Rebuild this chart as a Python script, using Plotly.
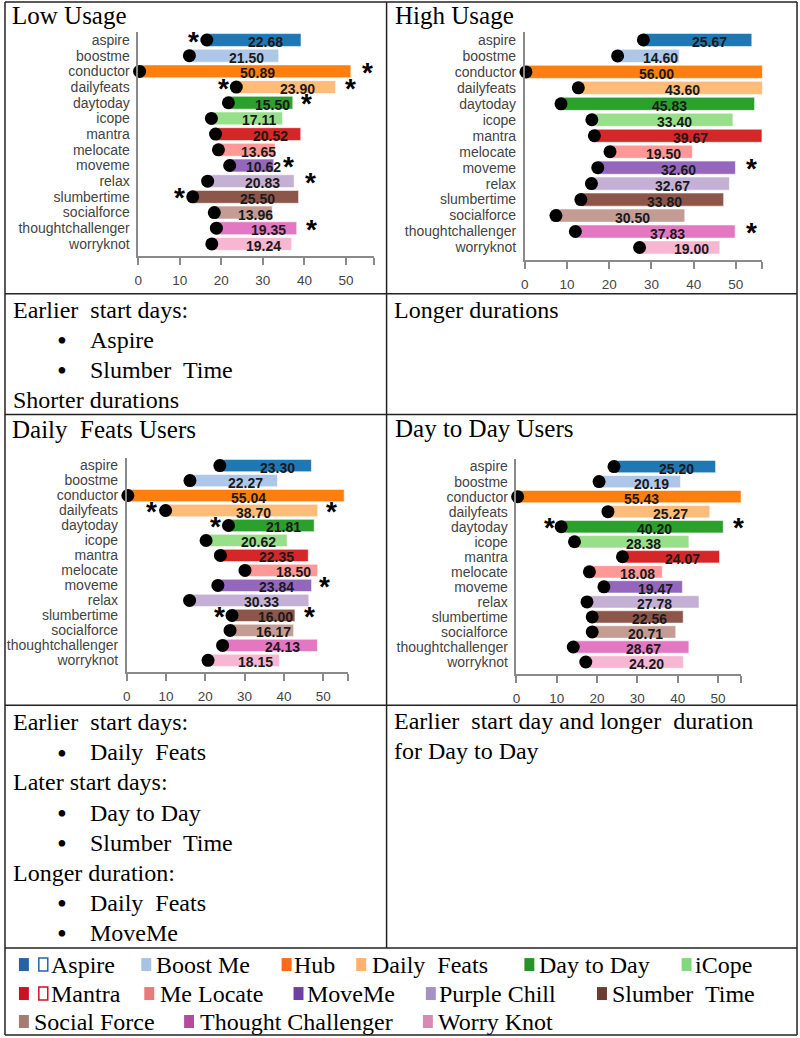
import plotly.graph_objects as go

# ---------------- data ----------------
categories = ["aspire", "boostme", "conductor", "dailyfeats", "daytoday", "icope", "mantra",
              "melocate", "moveme", "relax", "slumbertime", "socialforce",
              "thoughtchallenger", "worryknot"]

low_start = [16.5, 12.3, 0.3, 23.6, 21.7, 17.6, 18.6, 19.3, 22.0, 16.7, 13.1, 18.3, 18.8, 17.7]
low_dur = [22.68, 21.50, 50.89, 23.90, 15.50, 17.11, 20.52, 13.65, 10.62, 20.83, 25.50, 13.96, 19.35, 19.24]
low_star_left = {"aspire": 13.4, "dailyfeats": 20.4, "slumbertime": 10.0}
low_star_right = {"conductor": 55.2, "dailyfeats": 51.2, "daytoday": 40.6, "moveme": 36.2,
                  "relax": 41.4, "thoughtchallenger": 41.8}

high_start = [28.1, 22.0, 0.3, 12.7, 8.6, 15.9, 16.5, 20.2, 17.3, 15.8, 13.3, 7.4, 12.0, 27.2]
high_dur = [25.67, 14.60, 56.00, 43.60, 45.83, 33.40, 39.67, 19.50, 32.60, 32.67, 33.80, 30.50, 37.83, 19.00]
high_star_left = {}
high_star_right = {"daytoday": 58.1, "mantra": 59.9, "moveme": 53.6, "thoughtchallenger": 53.6}

df_start = [23.7, 16.1, 0.3, 9.9, 25.9, 20.2, 23.85, 30.1, 23.2, 16.0, 26.8, 26.3, 24.4, 20.7]
df_dur = [23.30, 22.27, 55.04, 38.70, 21.81, 20.62, 22.35, 18.50, 23.84, 30.33, 16.00, 16.17, 24.13, 18.15]
df_star_left = {"dailyfeats": 6.3, "daytoday": 22.5, "slumbertime": 23.5}
df_star_right = {"dailyfeats": 52.2, "moveme": 50.4, "slumbertime": 46.6}

dd_start = [24.2, 20.5, 0.3, 22.7, 11.1, 14.4, 26.3, 18.1, 21.7, 17.5, 18.8, 18.8, 14.1, 17.2]
dd_dur = [25.20, 20.19, 55.43, 25.27, 40.20, 28.38, 24.07, 18.08, 19.47, 27.78, 22.56, 20.71, 28.67, 24.20]
dd_star_left = {"daytoday": 8.1}
dd_star_right = {"daytoday": 55.0}

tick_values = [0, 10, 20, 30, 40, 50]

panel_titles = ["Low Usage", "High Usage", "Daily\u00a0 Feats Users", "Day to Day Users"]

legend_labels = ["Aspire", "Boost Me", "Hub", "Daily\u00a0 Feats", "Day to Day", "iCope",
                 "Mantra", "Me Locate", "MoveMe", "Purple Chill", "Slumber\u00a0 Time",
                 "Social Force", "Thought Challenger", "Worry Knot"]

note_upper_left = [("Earlier\u00a0 start days:", False), ("Aspire", True),
                   ("Slumber\u00a0 Time", True), ("Shorter durations", False)]
note_upper_right = ["Longer durations"]
note_lower_left = [("Earlier\u00a0 start days:", False), ("Daily\u00a0 Feats", True),
                   ("Later start days:", False), ("Day to Day", True), ("Slumber\u00a0 Time", True),
                   ("Longer duration:", False), ("Daily\u00a0 Feats", True), ("MoveMe", True)]
note_lower_right = ["Earlier\u00a0 start day and longer\u00a0 duration", "for Day to Day"]

# ---------------- style ----------------
W, H = 800, 1038
bar_colors = ["#1f77b4", "#aec7e8", "#ff7f0e", "#ffbb78", "#2ca02c", "#98df8a", "#d62728",
              "#ff9896", "#9467bd", "#c5b0d5", "#8c564b", "#c49c94", "#e377c2", "#f7b6d2"]
legend_colors = ["#2463a8", "#a6c2e4", "#ff6a1a", "#ffb26a", "#2a912a", "#80d97a", "#cc1122",
                 "#e97a7a", "#6f3fa6", "#a592c3", "#6b3c32", "#a67b72", "#b64b9c", "#d68ab5"]
SERIF = "Liberation Serif"
SANS = "Liberation Sans"
AXIS_GREY = "#8a8a8a"
LINE = "#222222"
TXT_PAD = 6  # annotation box inner padding compensation (px)


def px(x):
    return x / W


def py(y):
    return 1 - y / H


panels = [
    dict(start=low_start, dur=low_dur, sl=low_star_left, sr=low_star_right,
         xdom=(135, 372), ydom=(31.2, 255.7), xmax=56.8, title_xy=(12, 15)),
    dict(start=high_start, dur=high_dur, sl=high_star_left, sr=high_star_right,
         xdom=(523.3, 762.3), ydom=(31, 259.5), xmax=56.3, title_xy=(397, 15)),
    dict(start=df_start, dur=df_dur, sl=df_star_left, sr=df_star_right,
         xdom=(123.3, 345.7), ydom=(457.5, 672), xmax=56.3, title_xy=(12, 429)),
    dict(start=dd_start, dur=dd_dur, sl=dd_star_left, sr=dd_star_right,
         xdom=(515, 740.7), ydom=(458.5, 673.7), xmax=55.7, title_xy=(397, 428)),
]

fig = go.Figure()
annotations = []
shapes = []
layout = {}

for i, p in enumerate(panels):
    n = "" if i == 0 else str(i + 1)
    xa, ya = "x" + n, "y" + n
    start, dur = p["start"], p["dur"]

    fig.add_trace(go.Bar(
        y=categories, x=dur, base=start, orientation="h", width=0.82,
        marker=dict(color=bar_colors, line=dict(color="rgba(255,255,255,0.55)", width=1)),
        xaxis=xa, yaxis=ya, showlegend=False, hoverinfo="skip"))
    fig.add_trace(go.Scatter(
        x=start, y=categories, mode="markers",
        marker=dict(color="black", size=13, line=dict(width=0)),
        xaxis=xa, yaxis=ya, showlegend=False, cliponaxis=False, hoverinfo="skip"))

    for c, s, d in zip(categories, start, dur):
        annotations.append(dict(
            x=s + d / 2, y=c, xref=xa, yref=ya, text=f"{d:.2f}", showarrow=False,
            xshift=12, yshift=-2,
            font=dict(family=SANS, size=14, color="#1a1a1a", weight="bold")))
    for side in ("sl", "sr"):
        for c, xv in p[side].items():
            annotations.append(dict(
                x=xv, y=c, xref=xa, yref=ya, text="*", showarrow=False, yshift=-1,
                font=dict(family=SANS, size=28, color="black", weight="bold")))

    xmax = p["xmax"]
    layout["xaxis" + n] = dict(
        domain=[px(p["xdom"][0]), px(p["xdom"][1])], range=[0, xmax], anchor=ya,
        tickvals=tick_values + [xmax], ticktext=[str(t) for t in tick_values] + [""],
        ticks="outside", ticklen=7, tickwidth=1.5, tickcolor=AXIS_GREY,
        showline=True, linecolor=AXIS_GREY, linewidth=1.5,
        showgrid=False, zeroline=False, fixedrange=True, ticklabelstandoff=4,
        tickfont=dict(family=SANS, size=13.5, color="#444"))
    layout["yaxis" + n] = dict(
        domain=[py(p["ydom"][1]), py(p["ydom"][0])], type="category",
        categoryorder="array", categoryarray=categories, range=[13.8, -0.5], anchor=xa,
        tickmode="array", tickvals=categories, ticktext=categories,
        showline=True, linecolor=AXIS_GREY, linewidth=1.5, ticks="",
        showgrid=False, zeroline=False, fixedrange=True, ticklabelstandoff=4,
        tickfont=dict(family=SANS, size=14, color="#444"))

    tx, ty = p["title_xy"]
    annotations.append(dict(
        x=px(tx - TXT_PAD), y=py(ty), xref="paper", yref="paper", xanchor="left",
        yanchor="middle", text=panel_titles[i], showarrow=False,
        font=dict(family=SERIF, size=25, color="black")))


def serif_text(text, x, baseline, anchor="left", size=24):
    annotations.append(dict(
        x=px(x - (TXT_PAD if anchor == "left" else 0)), y=py(baseline - 8),
        xref="paper", yref="paper", xanchor=anchor,
        yanchor="middle", text=text, showarrow=False,
        font=dict(family=SERIF, size=size, color="black")))


def bullet_block(items, first_baseline, pitch=30.1):
    for k, (t, bullet) in enumerate(items):
        b = first_baseline + k * pitch
        if bullet:
            serif_text("\u2022", 58, b + 1, anchor="center", size=28)
            serif_text(t, 90, b)
        else:
            serif_text(t, 12.7, b)


bullet_block(note_upper_left, 317)
for k, t in enumerate(note_upper_right):
    serif_text(t, 396, 317 + k * 29.5)
bullet_block(note_lower_left, 730)
for k, t in enumerate(note_lower_right):
    serif_text(t, 396, 729 + k * 29.5)

# legend (drawn as text + colour swatches)
legend_rows = [965, 994, 1022]
legend_layout = [  # (row, swatch x, text x, hollow swatch)
    (0, 15, 51, True), (0, 138, 157, False), (0, 279, 295, False), (0, 354, 374, False),
    (0, 523, 542, False), (0, 681, 698, False),
    (1, 15, 51, True), (1, 141, 161, False), (1, 291, 309, False), (1, 424, 441, False),
    (1, 596, 615, False),
    (2, 15, 34, False), (2, 181, 201, False), (2, 421, 440, False),
]
for lab, col, (r, sx, tx, hollow) in zip(legend_labels, legend_colors, legend_layout):
    yc = legend_rows[r]
    shapes.append(dict(type="rect", xref="paper", yref="paper",
                       x0=px(sx), x1=px(sx + 10), y0=py(yc + 6), y1=py(yc - 7),
                       fillcolor=col, line=dict(width=0)))
    if hollow:
        shapes.append(dict(type="rect", xref="paper", yref="paper",
                           x0=px(sx + 20), x1=px(sx + 29), y0=py(yc + 6), y1=py(yc - 7),
                           fillcolor="white", line=dict(color=col, width=1.5)))
    annotations.append(dict(
        x=px(tx - TXT_PAD), y=py(yc), xref="paper", yref="paper", xanchor="left",
        yanchor="middle", text=lab, showarrow=False,
        font=dict(family=SERIF, size=24, color="black")))

# table grid
def hline(y, x0=1, x1=797):
    shapes.append(dict(type="line", xref="paper", yref="paper", x0=px(x0), x1=px(x1),
                       y0=py(y), y1=py(y), line=dict(color=LINE, width=1.5)))


def vline(x, y0, y1):
    shapes.append(dict(type="line", xref="paper", yref="paper", x0=px(x), x1=px(x),
                       y0=py(y0), y1=py(y1), line=dict(color=LINE, width=1.5)))


for yy in (1, 293, 414, 705, 948, 1035):
    hline(yy)
vline(1, 1, 1035)
vline(797, 1, 1035)
vline(384.5, 1, 948)

fig.update_layout(
    width=W, height=H, margin=dict(l=0, r=0, t=0, b=0),
    paper_bgcolor="white", plot_bgcolor="rgba(0,0,0,0)",
    showlegend=False, annotations=annotations, shapes=shapes, **layout)

fig.write_html("out.html", config={"displayModeBar": False},
               post_script="document.body.style.margin='0px';")
